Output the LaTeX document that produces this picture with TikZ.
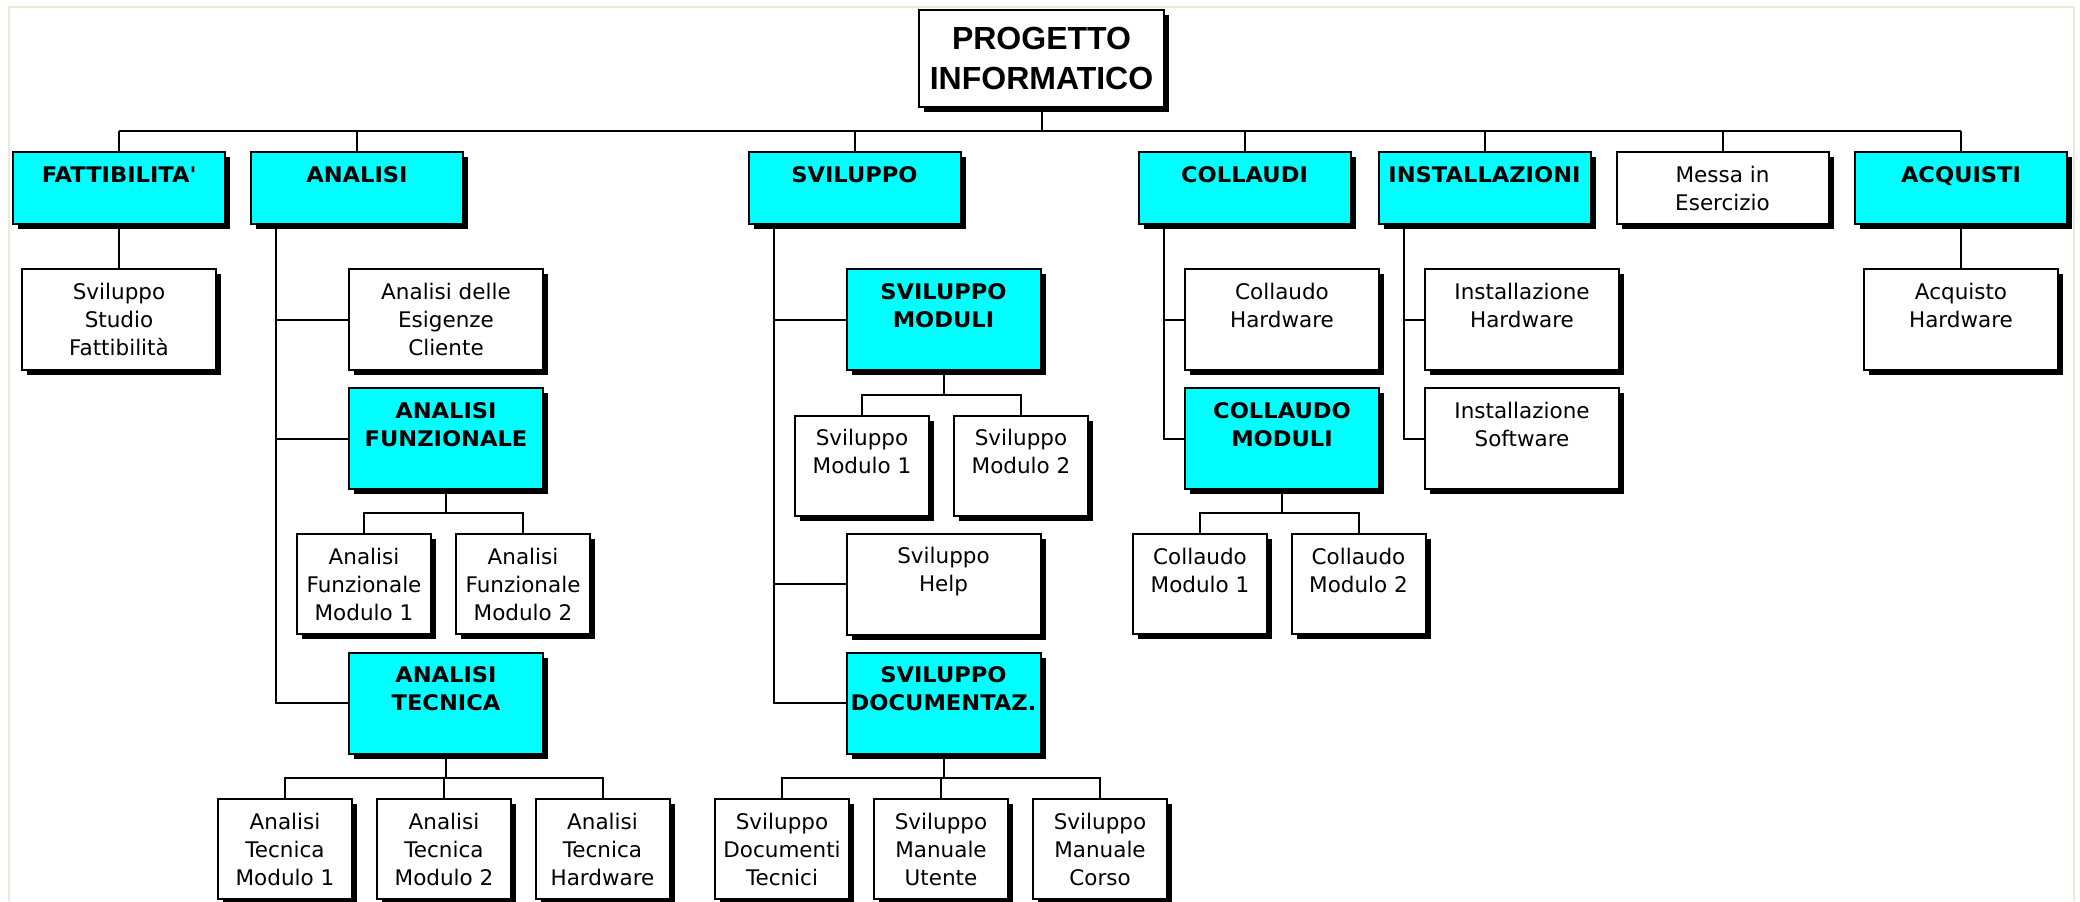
\documentclass[tikz,border=0pt]{standalone}
\usepackage{fontspec}
\setmainfont{DejaVu Sans}[BoldFeatures={FakeStretch=1.05}]
\newfontfamily\titlefont{Liberation Sans}
\usetikzlibrary{shadows}

\definecolor{boxcyan}{HTML}{00FFFF}
\definecolor{framec}{HTML}{ECE9D8}

% top-aligned text in a box of fixed size (width, height, text)
\newcommand{\boxtext}[3]{\begin{minipage}[c][#2][t]{#1}\centering\rule{0pt}{15pt}#3\end{minipage}}
\newcommand{\lone}[1]{\boxtext{106pt}{36pt}{#1}}
\newcommand{\ltwo}[1]{\boxtext{97pt}{50.5pt}{#1}}
\newcommand{\lsm}[1]{\boxtext{67pt}{50pt}{#1}}

\tikzset{
  wbs/.style={draw=black, line width=1pt, inner sep=0pt, rectangle,
    drop shadow={fill=black, opacity=1, shadow xshift=2.5pt, shadow yshift=-2.5pt},
    font=\fontsize{10.75}{14}\selectfont},
  plainbox/.style={wbs, fill=white},
  keybox/.style={wbs, fill=boxcyan, font=\fontsize{10.75}{14}\selectfont\bfseries},
  conn/.style={line width=1pt, draw=black},
}

\begin{document}
\begin{tikzpicture}[x=0.5pt, y=-0.5pt]
\useasboundingbox (0,0) rectangle (2080,901);
\fill[white] (0,0) rectangle (2080,901);
\draw[framec, line width=1pt] (9,901) -- (9,7) -- (2074,7) -- (2074,901);

% root
\node[wbs, fill=white, minimum width=122.5pt, minimum height=48.5pt, align=center,
      font=\titlefont\bfseries\fontsize{16}{20.3}\selectfont]
  (root) at (1041.5,58.5) {PROGETTO\\INFORMATICO};

% first level
\node[keybox]   (fatt)  at (119,188)    {\lone{FATTIBILITA\textquotesingle}};
\node[keybox]   (anal)  at (357,188)    {\lone{ANALISI}};
\node[keybox]   (svil)  at (854.5,188)  {\lone{SVILUPPO}};
\node[keybox]   (coll)  at (1244.5,188) {\lone{COLLAUDI}};
\node[keybox]   (inst)  at (1484.5,188) {\lone{INSTALLAZIONI}};
\node[plainbox] (messa) at (1722.5,188) {\lone{Messa in\\Esercizio}};
\node[keybox]   (acq)   at (1961,188)   {\lone{ACQUISTI}};

% fattibilita'
\node[plainbox] (stud) at (119,319.5) {\ltwo{Sviluppo\\Studio\\Fattibilità}};

% analisi
\node[plainbox] (esig) at (446,319.5) {\ltwo{Analisi delle\\Esigenze\\Cliente}};
\node[keybox]   (afun) at (446,438.5) {\ltwo{ANALISI\\FUNZIONALE}};
\node[plainbox] (afm1) at (364,584)   {\lsm{Analisi\\Funzionale\\Modulo 1}};
\node[plainbox] (afm2) at (523,584)   {\lsm{Analisi\\Funzionale\\Modulo 2}};
\node[keybox]   (atec) at (446,703)   {\ltwo{ANALISI\\TECNICA}};
\node[plainbox] (atm1) at (285,849)   {\lsm{Analisi\\Tecnica\\Modulo 1}};
\node[plainbox] (atm2) at (444,849)   {\lsm{Analisi\\Tecnica\\Modulo 2}};
\node[plainbox] (athw) at (602.5,849) {\lsm{Analisi\\Tecnica\\Hardware}};

% sviluppo
\node[keybox]   (smod) at (943.5,319.5) {\ltwo{SVILUPPO\\MODULI}};
\node[plainbox] (smo1) at (862,465.5)   {\lsm{Sviluppo\\Modulo 1}};
\node[plainbox] (smo2) at (1021,465.5)  {\lsm{Sviluppo\\Modulo 2}};
\node[plainbox] (shlp) at (943.5,584)   {\ltwo{Sviluppo\\Help}};
\node[keybox]   (sdoc) at (943.5,703)   {\ltwo{SVILUPPO\\DOCUMENTAZ.}};
\node[plainbox] (sdtc) at (782,849)     {\lsm{Sviluppo\\Documenti\\Tecnici}};
\node[plainbox] (smut) at (941,849)     {\lsm{Sviluppo\\Manuale\\Utente}};
\node[plainbox] (smco) at (1100,849)    {\lsm{Sviluppo\\Manuale\\Corso}};

% collaudi
\node[plainbox] (chw)  at (1282,319.5)  {\ltwo{Collaudo\\Hardware}};
\node[keybox]   (cmod) at (1282,438.5)  {\ltwo{COLLAUDO\\MODULI}};
\node[plainbox] (cmo1) at (1200,584)    {\lsm{Collaudo\\Modulo 1}};
\node[plainbox] (cmo2) at (1358.5,584)  {\lsm{Collaudo\\Modulo 2}};

% installazioni
\node[plainbox] (ihw)  at (1522,319.5)  {\ltwo{Installazione\\Hardware}};
\node[plainbox] (isw)  at (1522,438.5)  {\ltwo{Installazione\\Software}};

% acquisti
\node[plainbox] (ahw)  at (1961,319.5)  {\ltwo{Acquisto\\Hardware}};

% ---- connectors ----
\coordinate (bus) at (0,131);
\draw[conn] (fatt.north |- bus) -- (acq.north |- bus);
\draw[conn] (root.south) -- (root.south |- bus);
\foreach \n in {fatt,anal,svil,coll,inst,messa,acq}
  \draw[conn] (\n.north) -- (\n.north |- bus);

\draw[conn] (fatt.south) -- (stud.north);
\draw[conn] (acq.south) -- (ahw.north);

% analisi trunk
\coordinate (analt) at ([xshift=13pt]anal.south west);
\draw[conn] (analt) |- (atec.west);
\draw[conn] (analt |- esig.west) -- (esig.west);
\draw[conn] (analt |- afun.west) -- (afun.west);

\coordinate (afbus) at (0,513);
\draw[conn] (afun.south) -- (afun.south |- afbus);
\draw[conn] (afm1.north) -- (afm1.north |- afbus) -- (afm2.north |- afbus) -- (afm2.north);

\coordinate (atbus) at (0,778);
\draw[conn] (atec.south) -- (atec.south |- atbus);
\draw[conn] (atm1.north) -- (atm1.north |- atbus) -- (athw.north |- atbus) -- (athw.north);
\draw[conn] (atm2.north) -- (atm2.north |- atbus);

% sviluppo trunk
\coordinate (svilt) at ([xshift=13pt]svil.south west);
\draw[conn] (svilt) |- (sdoc.west);
\draw[conn] (svilt |- smod.west) -- (smod.west);
\draw[conn] (svilt |- shlp.west) -- (shlp.west);

\coordinate (smbus) at (0,395);
\draw[conn] (smod.south) -- (smod.south |- smbus);
\draw[conn] (smo1.north) -- (smo1.north |- smbus) -- (smo2.north |- smbus) -- (smo2.north);

\coordinate (sdbus) at (0,778);
\draw[conn] (sdoc.south) -- (sdoc.south |- sdbus);
\draw[conn] (sdtc.north) -- (sdtc.north |- sdbus) -- (smco.north |- sdbus) -- (smco.north);
\draw[conn] (smut.north) -- (smut.north |- sdbus);

% collaudi trunk
\coordinate (collt) at ([xshift=13pt]coll.south west);
\draw[conn] (collt) |- (cmod.west);
\draw[conn] (collt |- chw.west) -- (chw.west);

\coordinate (cmbus) at (0,513);
\draw[conn] (cmod.south) -- (cmod.south |- cmbus);
\draw[conn] (cmo1.north) -- (cmo1.north |- cmbus) -- (cmo2.north |- cmbus) -- (cmo2.north);

% installazioni trunk
\coordinate (instt) at ([xshift=13pt]inst.south west);
\draw[conn] (instt) |- (isw.west);
\draw[conn] (instt |- ihw.west) -- (ihw.west);
\end{tikzpicture}
\end{document}
